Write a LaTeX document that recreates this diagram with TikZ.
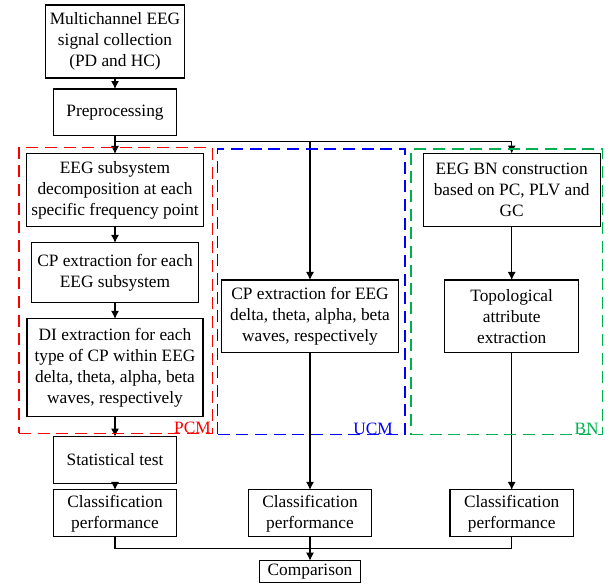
\documentclass[tikz,border=0pt]{standalone}
\usepackage{fontspec}
\setmainfont{Liberation Serif}
\usetikzlibrary{arrows.meta,positioning,fit,calc}
\definecolor{bngreen}{RGB}{0,176,80}

\begin{document}
\begin{tikzpicture}
[x=0.75pt, y=-0.75pt, >={Latex[length=6pt,width=6pt]}, line width=0.8pt,
block/.style = 
{draw, align=center, inner sep=1pt, outer sep=0pt, font=\fontsize{13}{15.6}\selectfont},
group/.style = {draw, line width=1pt, dash pattern=on 9pt off 5pt, inner sep=0pt, outer sep=0pt},
tag/.style = {anchor=base east, inner sep=0pt, font=\fontsize{13}{15.6}\selectfont}]
\useasboundingbox (0,0) rectangle (613,587);

\node [block, minimum width=104.6pt, minimum height=54.75pt] (collect) at (115,41.5)
  {Multichannel EEG\\signal collection\\(PD and HC)};
\node [block, minimum width=92.6pt, minimum height=34.7pt, below=8.25pt of collect] (pre)
  {Preprocessing};
\node [block, minimum width=132.5pt, minimum height=54.5pt, below=14pt of pre] (decomp)
  {EEG subsystem\\decomposition at each\\specific frequency point};
\node [block, minimum width=124.7pt, minimum height=44.8pt, below=12.2pt of decomp] (cpeach)
  {CP extraction for each\\EEG subsystem};
\node [block, minimum width=132pt, minimum height=73.5pt, below=12.2pt of cpeach] (di)
  {DI extraction for each\\type of CP within EEG\\delta, theta, alpha, beta\\waves, respectively};
\node [block, minimum width=92.6pt, minimum height=35pt, below=14.8pt of di] (stat)
  {Statistical test};
\node [block, minimum width=92.6pt, minimum height=35.25pt, below=5pt of stat] (cls1)
  {Classification\\performance};

\node [block, minimum width=132.3pt, minimum height=54.5pt] (ucm) at (310,316.3)
  {CP extraction for EEG\\delta, theta, alpha, beta\\waves, respectively};
\node [block, minimum width=92.6pt, minimum height=35.25pt] (cls2) at (310,513.4)
  {Classification\\performance};
\node [block, minimum width=76.3pt, minimum height=16.2pt, below=17.8pt of cls2] (comp)
  {Comparison};

\node [block, minimum width=132.5pt, minimum height=54.75pt] (bn) at (511.7,190)
  {EEG BN construction\\based on PC, PLV and\\GC};
\node [block, minimum width=100.4pt, minimum height=54.5pt] (topo) at (511.7,316.3)
  {Topological\\attribute\\extraction};
\node [block, minimum width=92.6pt, minimum height=35.25pt] (cls3) at (511.7,513.4)
  {Classification\\performance};

\coordinate (split) at (115,141.5);
\coordinate (mid) at (310,141.5);
\coordinate (merge) at (310,548.3);

\path[draw,->]
(collect)edge(pre)(pre)edge(decomp)
(decomp)edge(cpeach)(cpeach)edge(di)(di)edge(stat)(stat)edge(cls1)
(ucm)edge(cls2)(bn)edge(topo)(topo)edge(cls3)(cls2)edge(comp)
;
\draw[->] (mid) -- (ucm);
\draw[->] (split) -| (bn);
\draw (cls1) |- (merge) -| (cls3);

% corners of the dashed groups
\coordinate (p1) at (19,147.3);   \coordinate (p2) at (212.3,433.3);
\coordinate (u1) at (217.7,149);  \coordinate (u2) at (405,434.5);
\coordinate (b1) at (411,149);    \coordinate (b2) at (602.5,434.5);

\node[group, draw=red, fit=(p1)(p2)](pcm){};
\node[tag, text=red](pcmtag) at ($(pcm.south east)+(-1,0)$){PCM};

\node[group, draw=blue, fit=(u1)(u2)](ucmbox){};
\node[tag, text=blue](ucmtag) at ($(ucmbox.south east)+(-11.7,0)$){UCM};

\node[group, draw=bngreen, fit=(b1)(b2)](bnbox){};
\node[tag, text=bngreen](bntag) at ($(bnbox.south east)+(-3.3,0)$){BN};

\end{tikzpicture}
\end{document}
